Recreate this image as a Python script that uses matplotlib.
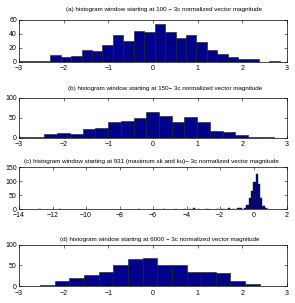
import numpy as np
import matplotlib
matplotlib.use("Agg")
import matplotlib.pyplot as plt

plt.rcParams['font.family'] = ['Liberation Sans', 'DejaVu Sans']

# ---------------- data ----------------
# (a) 25 bins from -3.0 to 2.84
a_edges_range = (-3.0, 2.84)
a_counts = [2, 1, 2, 10, 7, 8, 17, 16, 24, 38, 30, 45, 43, 54, 43, 35, 39, 29, 17, 12, 7, 4, 4, 0, 2]

# (b) 20 bins from -3.0 to 2.70
b_edges_range = (-3.0, 2.70)
b_counts = [2, 2, 8, 12, 10, 22, 25, 40, 42, 50, 63, 54, 40, 52, 39, 17, 15, 6, 2, 2]

# (c) 100 bins from -12.85 to 0.95, only non-empty bins listed
c_edges_range = (-12.85, 0.95)
c_nbins = 100
c_bin_index = [0, 9, 43, 54, 59, 63, 65, 67, 69, 72, 73, 77, 79, 80, 82, 84, 86, 87,
               89, 90, 91, 92, 93, 94, 95, 96, 97, 98, 99]
c_counts = [1, 1, 1, 1, 1, 1, 1, 2, 1, 1, 1, 1, 1, 1, 2, 1, 2, 2,
            3, 15, 40, 65, 98, 127, 90, 40, 10, 2, 1]

# (d) 15 bins from -2.53 to 2.39
d_edges_range = (-2.53, 2.39)
d_counts = [4, 12, 19, 28, 35, 52, 65, 67, 50, 52, 34, 35, 33, 13, 5]

titles = [
    "(a) histogram window starting at 100 \u2212 3c normalized vector magnitude",
    "(b) histogram window starting at 150\u2212 3c normalized vector magnitude",
    "(c) histogram window starting at 931 (maximum sk and ku)\u2212 3c normalized vector magnitude",
    "(d) histogram window starting at 6000 \u2212 3c normalized vector magnitude",
]
xlims = [(-3, 3), (-3, 3), (-14, 2), (-3, 3)]
xticks = [np.arange(-3, 4, 1), np.arange(-3, 4, 1), np.arange(-14, 3, 2), np.arange(-3, 4, 1)]
ylims = [(0, 60), (0, 100), (0, 150), (0, 100)]
yticks = [[0, 20, 40, 60], [0, 50, 100], [0, 50, 100, 150], [0, 50, 100]]

# ---------------- figure ----------------
W, H = 295, 303
fig = plt.figure(figsize=(W / 100, H / 100), dpi=100)

# axes boxes in pixels: (left, top, right, bottom)
boxes = [(19, 20, 287, 62), (19, 97.5, 287, 137.7), (19, 167.3, 287, 209), (19, 244.5, 287, 286.3)]
# title centres in pixels (x, y from top)
title_pos = [(164, 9), (165, 88.5), (151.5, 161.5), (160, 240)]

axes = []
for (l, t, r, b) in boxes:
    axes.append(fig.add_axes([l / W, 1 - b / H, (r - l) / W, (b - t) / H]))

bar_color = '#00008A'

def hist_bars(ax, rng, counts):
    n = len(counts)
    edges = np.linspace(rng[0], rng[1], n + 1)
    ax.bar(edges[:-1], counts, width=np.diff(edges), align='edge',
           color=bar_color, edgecolor='#1a1a1a', linewidth=0.4)

hist_bars(axes[0], a_edges_range, a_counts)
hist_bars(axes[1], b_edges_range, b_counts)
c_edges = np.linspace(c_edges_range[0], c_edges_range[1], c_nbins + 1)
c_w = c_edges[1] - c_edges[0]
axes[2].bar(c_edges[c_bin_index], c_counts, width=c_w, align='edge',
            color=bar_color, edgecolor='#1a1a1a', linewidth=0.3)
hist_bars(axes[3], d_edges_range, d_counts)

for i, ax in enumerate(axes):
    ax.set_xlim(*xlims[i])
    ax.set_ylim(*ylims[i])
    ax.set_xticks(xticks[i])
    ax.set_yticks(yticks[i])
    ax.tick_params(direction='in', length=2, width=0.4, labelsize=5,
                   top=True, right=True)
    ax.tick_params(axis='x', pad=2.5)
    ax.tick_params(axis='y', pad=1.5)
    for s in ax.spines.values():
        s.set_linewidth(0.5)
    tx, ty = title_pos[i]
    fig.text(tx / W, 1 - ty / H, titles[i], ha='center', va='center', fontsize=4.5)

fig.savefig("out.png", dpi=100)
